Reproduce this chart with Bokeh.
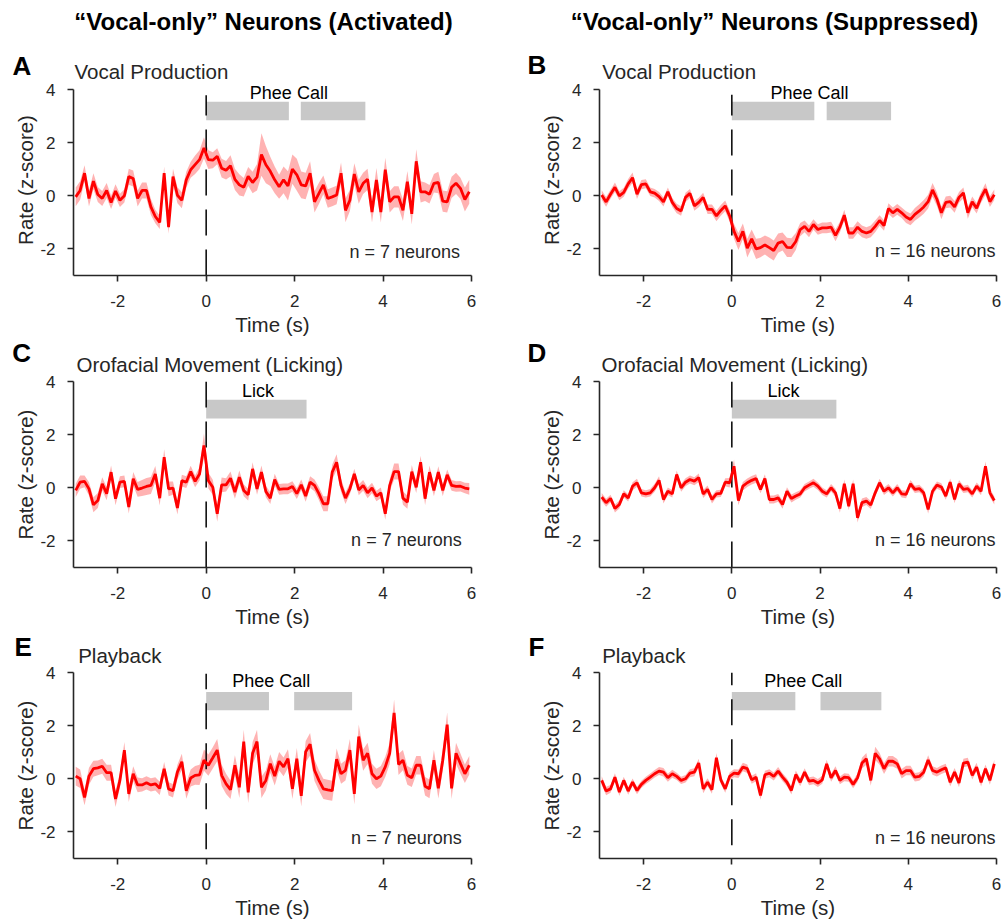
from bokeh.plotting import figure
from bokeh.layouts import column, row
from bokeh.models import Label, Range1d, FixedTicker
from bokeh.embed import file_html
from bokeh.resources import INLINE

# ---------------- data ----------------
# bin centres (s), 0.1 s bins from -3 to 6
time_s = [round(-2.95 + 0.1 * k, 2) for k in range(90)]

A_mean = [-0.04, 0.2, 0.85, -0.1, 0.55, 0.05, -0.1, 0.2, -0.25, 0.18,
          -0.17, 0.0, 0.72, 0.65, -0.1, 0.2, 0.2, -0.42, -0.78, -1.0,
          0.85, -1.18, 0.72, 0.02, -0.17, 0.6, 0.98, 1.17, 1.36, 1.8,
          1.36, 1.34, 1.49, 1.04, 0.96, 1.13, 0.62, 0.41, 0.32, 0.73,
          0.5, 0.7, 1.55, 1.17, 0.92, 0.6, 0.34, 0.6, 0.37, 1.0,
          0.79, 0.41, 0.37, 0.85, -0.23, 0.09, 0.41, -0.1, -0.04, 0.03,
          0.85, -0.55, -0.17, 0.82, 0.15, 0.47, 0.62, -0.61, 0.6, -0.61,
          0.98, -0.23, -0.04, -0.04, -0.55, 0.53, -0.68, 1.3, 0.15, 0.15,
          0.06, 0.47, 0.5, -0.2, -0.23, 0.32, 0.47, 0.28, -0.14, 0.15]
A_sem = [0.35, 0.35, 0.3, 0.3, 0.3, 0.28, 0.28, 0.28, 0.25, 0.25,
         0.25, 0.25, 0.3, 0.3, 0.3, 0.3, 0.3, 0.3, 0.25, 0.25,
         0.25, 0.25, 0.3, 0.3, 0.3, 0.3, 0.3, 0.35, 0.35, 0.4,
         0.35, 0.3, 0.3, 0.35, 0.35, 0.4, 0.4, 0.4, 0.35, 0.35,
         0.4, 0.5, 0.8, 0.7, 0.55, 0.5, 0.45, 0.5, 0.55, 0.55,
         0.6, 0.5, 0.5, 0.45, 0.4, 0.4, 0.35, 0.35, 0.35, 0.35,
         0.4, 0.45, 0.4, 0.4, 0.45, 0.4, 0.4, 0.4, 0.45, 0.4,
         0.45, 0.4, 0.4, 0.4, 0.4, 0.4, 0.4, 0.45, 0.4, 0.35,
         0.35, 0.35, 0.4, 0.4, 0.4, 0.4, 0.4, 0.4, 0.45, 0.45]

B_mean = [0.03, -0.23, 0.06, 0.32, 0.0, 0.13, 0.45, 0.68, 0.06, 0.42,
          0.45, 0.15, 0.1, -0.03, -0.23, 0.15, -0.25, -0.48, -0.57, -0.06,
          0.09, -0.38, -0.25, -0.06, -0.51, -0.51, -0.76, -0.55, -0.38, -0.76,
          -1.34, -1.72, -1.34, -1.97, -1.62, -2.0, -1.95, -1.85, -1.95, -2.06,
          -1.78, -1.72, -1.94, -1.95, -1.72, -1.27, -1.15, -1.34, -1.08, -1.27,
          -1.21, -1.21, -1.18, -1.49, -1.18, -0.73, -1.4, -1.4, -1.18, -1.34,
          -1.4, -1.34, -1.15, -0.93, -1.12, -0.48, -0.64, -0.51, -0.64, -0.8,
          -0.89, -0.7, -0.57, -0.42, -0.22, 0.22, -0.13, -0.64, -0.25, -0.22,
          -0.42, -0.06, 0.11, -0.64, -0.23, -0.47, -0.06, 0.25, -0.22, 0.04]
B_sem = [0.18, 0.18, 0.17, 0.18, 0.17, 0.17, 0.18, 0.2, 0.18, 0.17,
         0.17, 0.16, 0.16, 0.17, 0.17, 0.16, 0.17, 0.18, 0.18, 0.17,
         0.17, 0.18, 0.18, 0.17, 0.18, 0.18, 0.2, 0.2, 0.2, 0.22,
         0.28, 0.32, 0.3, 0.35, 0.35, 0.38, 0.36, 0.36, 0.38, 0.38,
         0.36, 0.34, 0.36, 0.35, 0.32, 0.25, 0.22, 0.22, 0.2, 0.2,
         0.2, 0.2, 0.2, 0.22, 0.2, 0.2, 0.22, 0.22, 0.22, 0.22,
         0.22, 0.22, 0.22, 0.2, 0.2, 0.2, 0.2, 0.2, 0.2, 0.22,
         0.22, 0.24, 0.25, 0.26, 0.26, 0.26, 0.25, 0.24, 0.22, 0.22,
         0.22, 0.2, 0.2, 0.22, 0.2, 0.2, 0.2, 0.22, 0.2, 0.2]

C_mean = [-0.1, 0.21, 0.24, -0.04, -0.64, -0.48, 0.15, -0.22, 0.59, -0.41,
          0.21, 0.24, -0.72, 0.34, -0.06, -0.01, 0.05, 0.09, 0.52, -0.39,
          1.15, -0.04, -0.01, -0.76, 0.27, 0.21, 0.61, 0.24, 0.52, 1.59,
          0.27, 0.02, -0.98, 0.11, 0.11, 0.36, -0.16, 0.4, -0.1, -0.26,
          0.71, -0.04, 0.59, -0.14, -0.39, 0.31, -0.06, -0.04, -0.04, 0.05,
          -0.22, 0.11, -0.31, 0.21, 0.09, -0.22, -0.6, -0.6, 0.59, 0.96,
          0.09, -0.39, -0.04, 0.52, -0.08, 0.09, -0.19, -0.01, -0.31, -0.19,
          -0.98, 0.09, 0.61, 0.61, -0.39, -0.54, 0.61, 0.02, 0.96, -0.41,
          0.59, -0.1, 0.59, -0.1, 0.49, 0.09, 0.05, 0.06, -0.01, -0.04]
C_sem = [0.25, 0.25, 0.22, 0.25, 0.28, 0.28, 0.25, 0.25, 0.25, 0.25,
         0.22, 0.22, 0.25, 0.25, 0.28, 0.3, 0.32, 0.32, 0.3, 0.28,
         0.3, 0.28, 0.25, 0.25, 0.22, 0.22, 0.22, 0.22, 0.25, 0.45,
         0.3, 0.28, 0.3, 0.28, 0.25, 0.25, 0.25, 0.25, 0.22, 0.22,
         0.25, 0.22, 0.25, 0.22, 0.22, 0.22, 0.2, 0.2, 0.2, 0.2,
         0.2, 0.2, 0.22, 0.22, 0.22, 0.25, 0.28, 0.28, 0.28, 0.3,
         0.25, 0.22, 0.2, 0.2, 0.2, 0.2, 0.2, 0.2, 0.2, 0.2,
         0.22, 0.22, 0.3, 0.3, 0.25, 0.25, 0.25, 0.22, 0.25, 0.25,
         0.25, 0.22, 0.22, 0.22, 0.2, 0.2, 0.2, 0.2, 0.2, 0.22]

D_mean = [-0.35, -0.56, -0.4, -0.78, -0.63, -0.23, -0.38, 0.06, 0.19, -0.19,
          -0.23, -0.19, 0.0, 0.28, -0.44, -0.13, -0.23, 0.5, 0.0, 0.21,
          0.31, 0.25, 0.38, -0.23, -0.06, -0.44, -0.23, -0.21, 0.21, 0.19,
          0.81, -0.48, 0.06, 0.19, 0.28, 0.35, -0.06, 0.35, -0.44, -0.44,
          -0.38, -0.63, -0.13, -0.4, -0.31, -0.23, 0.0, 0.1, 0.19, 0.06,
          -0.13, -0.23, 0.0, -0.19, -0.78, 0.15, -0.69, 0.15, -1.13, -0.56,
          -0.5, -0.65, -0.19, 0.19, -0.13, 0.0, -0.19, 0.0, -0.23, -0.25,
          0.15, -0.06, -0.03, -0.19, -0.81, -0.13, 0.1, 0.03, -0.31, 0.21,
          -0.44, 0.15, -0.06, -0.03, -0.23, 0.06, -0.13, 0.81, -0.19, -0.48]
D_sem = [0.15, 0.15, 0.14, 0.15, 0.15, 0.14, 0.14, 0.15, 0.15, 0.14,
         0.14, 0.14, 0.15, 0.15, 0.15, 0.14, 0.14, 0.15, 0.15, 0.15,
         0.15, 0.15, 0.16, 0.15, 0.15, 0.15, 0.14, 0.14, 0.15, 0.18,
         0.25, 0.18, 0.16, 0.16, 0.16, 0.16, 0.15, 0.16, 0.15, 0.15,
         0.15, 0.16, 0.15, 0.15, 0.14, 0.14, 0.14, 0.14, 0.15, 0.14,
         0.14, 0.14, 0.14, 0.15, 0.16, 0.16, 0.16, 0.16, 0.18, 0.16,
         0.15, 0.15, 0.14, 0.15, 0.14, 0.14, 0.14, 0.14, 0.14, 0.14,
         0.14, 0.14, 0.14, 0.14, 0.16, 0.14, 0.14, 0.14, 0.14, 0.14,
         0.14, 0.14, 0.14, 0.14, 0.14, 0.14, 0.15, 0.18, 0.16, 0.15]

E_mean = [0.1, 0.0, -0.7, 0.1, 0.38, 0.41, 0.47, 0.23, 0.23, -0.76,
          -0.06, 1.08, -0.57, 0.19, -0.23, -0.23, -0.15, -0.23, -0.19, -0.36,
          0.38, -0.38, -0.45, 0.25, 0.64, -0.45, 0.03, 0.13, 0.15, 0.7,
          0.51, 0.79, 1.08, 0.13, -0.19, -0.41, 0.51, -0.32, 1.4, -0.51,
          0.96, 1.4, -0.32, -0.06, 0.57, 0.1, 0.66, 0.45, 0.76, -0.38,
          0.76, -0.64, 1.02, 1.3, 0.32, -0.06, -0.38, -0.42, -0.45, 0.74,
          0.19, 0.32, 1.08, -0.57, 1.59, 0.7, 0.96, 0.19, 0.0, 0.1,
          0.45, 0.96, 2.48, 0.54, 0.7, 0.13, 0.04, 0.51, 0.51, -0.28,
          -0.38, 0.7, -0.36, 0.7, 2.04, -0.36, 0.96, 0.57, 0.19, 0.51]
E_sem = [0.35, 0.35, 0.3, 0.32, 0.3, 0.28, 0.28, 0.3, 0.3, 0.3,
         0.28, 0.3, 0.3, 0.28, 0.28, 0.25, 0.25, 0.25, 0.25, 0.25,
         0.25, 0.25, 0.25, 0.28, 0.3, 0.3, 0.32, 0.35, 0.38, 0.4,
         0.4, 0.4, 0.42, 0.4, 0.38, 0.35, 0.38, 0.4, 0.45, 0.4,
         0.42, 0.45, 0.4, 0.38, 0.35, 0.35, 0.35, 0.35, 0.35, 0.38,
         0.4, 0.4, 0.4, 0.42, 0.4, 0.38, 0.38, 0.38, 0.38, 0.4,
         0.38, 0.38, 0.42, 0.4, 0.45, 0.4, 0.4, 0.38, 0.38, 0.38,
         0.38, 0.4, 0.5, 0.4, 0.38, 0.35, 0.35, 0.35, 0.35, 0.35,
         0.35, 0.38, 0.38, 0.4, 0.45, 0.4, 0.4, 0.38, 0.35, 0.35]

F_mean = [-0.06, -0.46, -0.38, 0.06, -0.5, -0.06, -0.46, -0.13, -0.44, -0.21,
          -0.06, 0.06, 0.19, 0.29, 0.25, 0.04, 0.19, 0.09, -0.06, 0.0,
          0.21, 0.25, 0.59, -0.38, -0.13, -0.41, 0.79, -0.04, -0.38, 0.09,
          0.21, 0.19, 0.44, 0.38, -0.04, 0.06, -0.63, 0.15, 0.21, 0.09,
          0.29, 0.06, -0.13, -0.44, 0.16, -0.13, 0.25, -0.09, -0.06, -0.16,
          -0.04, 0.56, 0.04, 0.31, -0.06, 0.06, 0.04, -0.21, 0.04, 0.59,
          0.75, -0.06, 0.96, 0.75, 0.38, 0.66, 0.66, 0.56, 0.19, 0.31,
          0.31, 0.06, 0.09, 0.25, 0.71, 0.31, 0.25, 0.34, 0.41, -0.13,
          0.25, -0.16, 0.59, 0.63, 0.13, 0.44, -0.13, 0.38, -0.06, 0.56]
F_sem = [0.16, 0.16, 0.15, 0.15, 0.15, 0.14, 0.14, 0.14, 0.14, 0.14,
         0.14, 0.14, 0.14, 0.15, 0.16, 0.15, 0.15, 0.14, 0.14, 0.14,
         0.15, 0.15, 0.16, 0.16, 0.15, 0.15, 0.18, 0.15, 0.15, 0.15,
         0.15, 0.16, 0.16, 0.16, 0.15, 0.15, 0.16, 0.15, 0.15, 0.15,
         0.15, 0.15, 0.15, 0.15, 0.15, 0.15, 0.15, 0.15, 0.15, 0.15,
         0.15, 0.16, 0.15, 0.16, 0.15, 0.15, 0.15, 0.15, 0.16, 0.2,
         0.22, 0.2, 0.25, 0.22, 0.2, 0.2, 0.2, 0.18, 0.18, 0.18,
         0.18, 0.16, 0.16, 0.16, 0.18, 0.16, 0.16, 0.16, 0.16, 0.16,
         0.16, 0.16, 0.16, 0.16, 0.16, 0.16, 0.16, 0.16, 0.16, 0.16]

col_titles = ["\u201cVocal-only\u201d Neurons (Activated)",
              "\u201cVocal-only\u201d Neurons (Suppressed)"]
row_titles = ["Vocal Production", "Orofacial Movement (Licking)", "Playback"]
letters = [["A", "B"], ["C", "D"], ["E", "F"]]
x_ticks = [-2, 0, 2, 4, 6]
y_ticks = [-2, 0, 2, 4]

# event bars (start, end) in s
A_bars = [(0.0, 1.87), (2.14, 3.6)]
B_bars = [(0.0, 1.87), (2.15, 3.61)]
C_bars = [(0.0, 2.27)]
D_bars = [(0.0, 2.37)]
E_bars = [(0.0, 1.42), (1.99, 3.3)]
F_bars = [(0.0, 1.44), (2.01, 3.39)]

FONT = "Liberation Sans"
DARK = "#262626"
FH = 186
TOTAL_W = 1004
MID = 0.35   # text is drawn centred: centre sits this many font-sizes above the baseline


def make_panel(mean, sem, bars, spec):
    fw = spec["fw"]
    ext = spec.get("ext", 0)      # extra frame room above y = 4 (px)
    dx = 9.0 / fw
    dy = 7.0 / FH
    p = figure(frame_width=fw, frame_height=FH + ext,
               x_range=Range1d(-3, 6), y_range=Range1d(-3, 4 + ext * dy),
               output_backend="svg", toolbar_location=None,
               min_border_left=spec["ml"], min_border_right=spec["mr"],
               min_border_top=spec["mt"], min_border_bottom=spec["mb"],
               background_fill_color=None, border_fill_color=None)
    p.outline_line_color = None
    p.xgrid.visible = False
    p.ygrid.visible = False
    p.xaxis.ticker = FixedTicker(ticks=x_ticks)
    p.yaxis.ticker = FixedTicker(ticks=y_ticks)
    p.yaxis.bounds = (-3, 4)
    p.xaxis.major_label_overrides = {t: str(t) for t in x_ticks}
    p.yaxis.major_label_overrides = {t: str(t) for t in y_ticks}
    p.xaxis.axis_label = "Time (s)"
    p.yaxis.axis_label = "Rate (z-score)"
    for ax in (p.xaxis[0], p.yaxis[0]):
        ax.axis_line_color = DARK
        ax.axis_line_width = 1.6
        ax.major_tick_line_color = DARK
        ax.major_tick_line_width = 1.6
        ax.major_tick_out = 6
        ax.major_tick_in = 0
        ax.minor_tick_line_color = None
        ax.major_label_text_font = FONT
        ax.major_label_text_font_size = "17px"
        ax.major_label_text_color = DARK
        ax.axis_label_text_font = FONT
        ax.axis_label_text_font_size = "20.5px"
        ax.axis_label_text_font_style = "normal"
        ax.axis_label_text_color = DARK
    p.xaxis.major_label_standoff = 13
    p.xaxis.axis_label_standoff = 3
    p.yaxis.major_label_standoff = 12
    p.yaxis.axis_label_standoff = 0

    # grey event bars
    p.quad(left=[b[0] for b in bars], right=[b[1] for b in bars],
           bottom=spec["bar_y"][0], top=spec["bar_y"][1],
           fill_color="#c8c8c8", line_color=None)
    # SEM band
    lo = [m - s for m, s in zip(mean, sem)]
    hi = [m + s for m, s in zip(mean, sem)]
    p.varea(x=time_s, y1=lo, y2=hi, fill_color="#ff0000", fill_alpha=0.3)
    # onset line
    p.segment(x0=[0], y0=[spec["dash"][0]], x1=[0], y1=[spec["dash"][1]],
              line_color="black", line_width=1.5, line_dash="26 14")
    # mean
    p.line(time_s, mean, line_color="#ff0000", line_width=2.8)

    p.add_layout(Label(x=spec["ev"][0],
                       y=4 - (spec["ev"][1] - MID * 18) * dy,
                       text=spec["event"], text_align="center",
                       text_baseline="middle", text_font=FONT,
                       text_font_size="18px", text_color="black"))
    p.add_layout(Label(x=-3 + spec["n"][0] * dx,
                       y=-3 + (spec["n"][1] + MID * 18) * dy,
                       text=spec["ntext"], text_align="right",
                       text_baseline="middle", text_font=FONT,
                       text_font_size="18px", text_color=DARK))
    return p


def make_header(h, items, kt=0, kb=0):
    """Transparent strip above a row of panels.  It takes h px of the page
    flow but draws kt px higher and kb px lower (negative margins), so that
    text boxes can reach into the neighbouring transparent borders.
    Coordinates: pixels from the nominal top-left, y = text baseline."""
    hp = figure(frame_width=TOTAL_W, frame_height=h + kt + kb,
                x_range=Range1d(0, TOTAL_W), y_range=Range1d(h + kb, -kt),
                x_axis_type=None, y_axis_type=None,
                output_backend="svg", toolbar_location=None, min_border=0,
                background_fill_color=None, border_fill_color=None,
                margin=(-kt, 0, -kb, 0))
    hp.outline_line_color = None
    hp.grid.visible = False
    for (txt, x, y, size, bold, align, color) in items:
        hp.add_layout(Label(x=x, y=y - MID * size, text=txt, text_align=align,
                            text_baseline="middle", text_font=FONT,
                            text_font_size=f"{size}px",
                            text_font_style="bold" if bold else "normal",
                            text_color=color))
    return hp


col1 = dict(fw=398, ml=73, mr=63)
col2 = dict(fw=397, ml=65, mr=8)

specs = {
    "A": dict(col1, ext=5, mt=5, mb=64, bar_y=(2.84, 3.54), dash=(-3, 3.78),
              event="Phee Call", ev=(1.87, 9.3),
              ntext="n = 7 neurons", n=(386.5, 17.7)),
    "B": dict(col2, ext=5, mt=5, mb=64, bar_y=(2.84, 3.54), dash=(-3, 3.8),
              event="Phee Call", ev=(1.76, 9.3),
              ntext="n = 16 neurons", n=(396, 18)),
    "C": dict(col1, mt=10, mb=64, bar_y=(2.61, 3.31), dash=(-3, 4.0),
              event="Lick", ev=(1.17, 15.4),
              ntext="n = 7 neurons", n=(388.2, 21.6)),
    "D": dict(col2, mt=10, mb=64, bar_y=(2.61, 3.31), dash=(-3, 4.0),
              event="Lick", ev=(1.17, 15.4),
              ntext="n = 16 neurons", n=(396, 21.6)),
    "E": dict(col1, mt=10, mb=62, bar_y=(2.58, 3.27), dash=(-2.65, 3.95),
              event="Phee Call", ev=(1.47, 14.4),
              ntext="n = 7 neurons", n=(388.2, 14.3)),
    "F": dict(col2, mt=10, mb=62, bar_y=(2.58, 3.27), dash=(-2.5, 4.0),
              event="Phee Call", ev=(1.62, 14.4),
              ntext="n = 16 neurons", n=(396, 14.3)),
}

pA = make_panel(A_mean, A_sem, A_bars, specs["A"])
pB = make_panel(B_mean, B_sem, B_bars, specs["B"])
pC = make_panel(C_mean, C_sem, C_bars, specs["C"])
pD = make_panel(D_mean, D_sem, D_bars, specs["D"])
pE = make_panel(E_mean, E_sem, E_bars, specs["E"])
pF = make_panel(F_mean, F_sem, F_bars, specs["F"])

L, S, T = 26, 20.5, 24
h1 = make_header(79, [
    (col_titles[0], 263, 29, T, True, "center", "black"),
    (col_titles[1], 774, 29, T, True, "center", "black"),
    (letters[0][0], 12, 75, L, True, "left", "black"),
    (letters[0][1], 527, 74, L, True, "left", "black"),
    (row_titles[0], 74, 78.3, S, False, "left", DARK),
    (row_titles[0], 601.7, 78.3, S, False, "left", DARK),
], kt=0, kb=5)
h2 = make_header(32, [
    (letters[1][0], 11.7, 22.7, L, True, "left", "black"),
    (letters[1][1], 527, 22.7, L, True, "left", "black"),
    (row_titles[1], 76, 32.3, S, False, "left", DARK),
    (row_titles[1], 601, 32.3, S, False, "left", DARK),
], kt=2, kb=6)
h3 = make_header(31, [
    (letters[2][0], 14, 24.7, L, True, "left", "black"),
    (letters[2][1], 528, 24.7, L, True, "left", "black"),
    (row_titles[2], 77.7, 31.3, S, False, "left", DARK),
    (row_titles[2], 601.7, 31.3, S, False, "left", DARK),
], kt=0, kb=6)

layout = column(h1, row(pA, pB), h2, row(pC, pD), h3, row(pE, pF))

with open("out.html", "w") as f:
    f.write(file_html(layout, INLINE))
